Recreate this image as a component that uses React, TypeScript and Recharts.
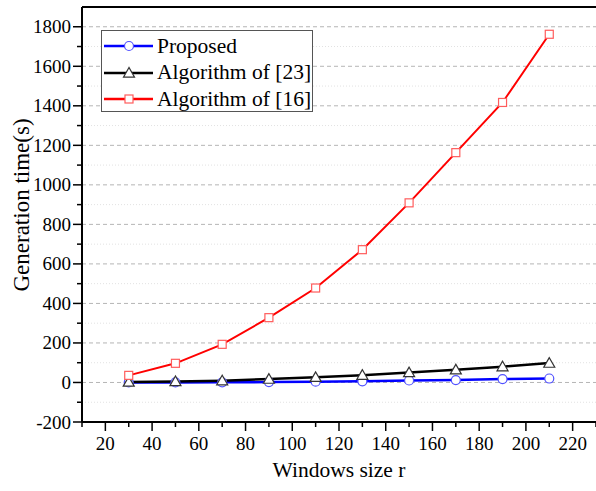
import {
  LineChart,
  Line,
  XAxis,
  YAxis,
  CartesianGrid,
  Legend,
  ReferenceLine
} from 'recharts';

// Valores
const windowSizes = [30, 50, 70, 90, 110, 130, 150, 170, 190, 210];
const proposed = [0, 0.5, 1, 2, 4, 6, 10, 12, 17, 20];
const algorithm23 = [2, 5, 9, 17, 26, 37, 50, 64, 80, 98];
const algorithm16 = [36, 97, 193, 328, 478, 672, 909, 1163, 1417, 1762];

const xTicks = [10, 20, 30, 40, 50, 60, 70, 80, 90, 100, 110, 120, 130, 140, 150, 160, 170, 180, 190, 200, 210, 220, 230];
const yTicks = [-200, -100, 0, 100, 200, 300, 400, 500, 600, 700, 800, 900, 1000, 1100, 1200, 1300, 1400, 1500, 1600, 1700, 1800];
const yMajorGrid = [0, 200, 400, 600, 800, 1000, 1200, 1400, 1600, 1800];
const yMinorGrid = [-100, 100, 300, 500, 700, 900, 1100, 1300, 1500, 1700];

const SERIES = [
  { key: 'proposed', name: 'Proposed', color: '#0000ff', marker: 'circle' },
  { key: 'alg23', name: 'Algorithm of [23]', color: '#000000', marker: 'triangle' },
  { key: 'alg16', name: 'Algorithm of [16]', color: '#ff0000', marker: 'square' }
];

const datos = windowSizes.map((r, i) => ({
  r,
  proposed: proposed[i],
  alg23: algorithm23[i],
  alg16: algorithm16[i]
}));

const FUENTE = '"Liberation Serif", "Times New Roman", serif';

// Marcadores huecos
const Marcador = ({ tipo, cx, cy }: { tipo: string; cx: number; cy: number }) => {
  if (tipo === 'circle') {
    return <circle cx={cx} cy={cy} r={4.5} fill="#fff" stroke="#5050ff" strokeWidth={1.2} />;
  }
  if (tipo === 'triangle') {
    const s = 5.5;
    return (
      <polygon
        points={`${cx},${cy - s} ${cx - s},${cy + s * 0.75} ${cx + s},${cy + s * 0.75}`}
        fill="#fff"
        stroke="#333"
        strokeWidth={1.2}
      />
    );
  }
  return <rect x={cx - 4} y={cy - 4} width={8} height={8} fill="#fff" stroke="#ff5c5c" strokeWidth={1.2} />;
};

const YTick = (props: any) => {
  const { x, y, payload } = props;
  const v = payload.value;
  const major = v % 200 === 0;
  return (
    <g>
      <line x1={x} x2={x - (major ? 9 : 5)} y1={y} y2={y} stroke="#000" strokeWidth={1.5} />
      {major && (
        <text x={x - 11} y={y} dy={6.5} textAnchor="end" fontSize={19} fontFamily={FUENTE} fill="#000">
          {v}
        </text>
      )}
    </g>
  );
};

const XTick = (props: any) => {
  const { x, y, payload } = props;
  const v = payload.value;
  const major = v % 20 === 0;
  return (
    <g>
      <line x1={x} x2={x} y1={y} y2={y + (major ? 9 : 5)} stroke="#000" strokeWidth={1.5} />
      {major && v <= 220 && (
        <text x={x} y={y + 28} textAnchor="middle" fontSize={19} fontFamily={FUENTE} fill="#000">
          {v}
        </text>
      )}
    </g>
  );
};

const YLabel = () => (
  <text
    x={21}
    y={205}
    transform="rotate(-90, 21, 205)"
    textAnchor="middle"
    dominantBaseline="central"
    fontSize={23}
    fontFamily={FUENTE}
    fill="#000"
  >
    Generation time(s)
  </text>
);

const Leyenda = () => (
  <div
    style={{
      width: 212,
      height: 82,
      border: '1px solid #555',
      background: '#fff',
      boxSizing: 'border-box',
      paddingTop: 2
    }}
  >
    {SERIES.map((s) => (
      <div key={s.key} style={{ display: 'flex', alignItems: 'center', height: 26.5 }}>
        <svg width={55} height={20} style={{ flex: 'none' }}>
          <line x1={2} x2={51} y1={10} y2={10} stroke={s.color} strokeWidth={2.5} />
          <Marcador tipo={s.marker} cx={27} cy={10} />
        </svg>
        <span style={{ fontFamily: FUENTE, fontSize: 21.5, color: '#000', lineHeight: 1, whiteSpace: 'nowrap' }}>
          {s.name}
        </span>
      </div>
    ))}
  </div>
);

export default function App() {
  return (
    <div style={{ position: 'absolute', left: 0, top: 0, width: 596, height: 491, background: '#fff' }}>
      <LineChart width={596} height={491} data={datos} margin={{ top: 7, right: 0, left: 0, bottom: 0 }}>
        <CartesianGrid
          horizontal={true}
          vertical={false}
          horizontalValues={yMinorGrid}
          stroke="#e2e2e2"
          strokeDasharray="1 2"
        />
        <CartesianGrid
          horizontal={true}
          vertical={false}
          horizontalValues={yMajorGrid}
          stroke="#b5b5b5"
          strokeDasharray="4 3"
        />
        <XAxis
          dataKey="r"
          type="number"
          domain={[10, 230]}
          ticks={xTicks}
          interval={0}
          allowDataOverflow
          height={69}
          tickSize={0}
          tickMargin={0}
          tickLine={false}
          tick={<XTick />}
          axisLine={{ stroke: '#000', strokeWidth: 2 }}
          label={{
            value: 'Windows size r',
            position: 'insideBottom',
            offset: 14,
            fontSize: 21.5,
            fontFamily: FUENTE,
            fill: '#000'
          }}
        />
        <YAxis
          type="number"
          domain={[-200, 1900]}
          ticks={yTicks}
          interval={0}
          allowDataOverflow
          width={82}
          tickSize={0}
          tickMargin={0}
          tickLine={false}
          tick={<YTick />}
          axisLine={{ stroke: '#000', strokeWidth: 2 }}
          label={<YLabel />}
        />
        <ReferenceLine y={1900} stroke="#000" strokeWidth={2} ifOverflow="visible" />
        <Legend
          layout="vertical"
          align="center"
          verticalAlign="middle"
          wrapperStyle={{ left: 101, top: 30, width: 212 }}
          content={<Leyenda />}
        />
        {SERIES.map((s) => (
          <Line
            key={s.key}
            dataKey={s.key}
            name={s.name}
            type="linear"
            stroke={s.color}
            strokeWidth={s.key === 'alg16' ? 2 : 2.5}
            isAnimationActive={false}
            dot={(p: any) => <Marcador key={`${s.key}-${p.index}`} tipo={s.marker} cx={p.cx} cy={p.cy} />}
            activeDot={false}
          />
        ))}
      </LineChart>
    </div>
  );
}
